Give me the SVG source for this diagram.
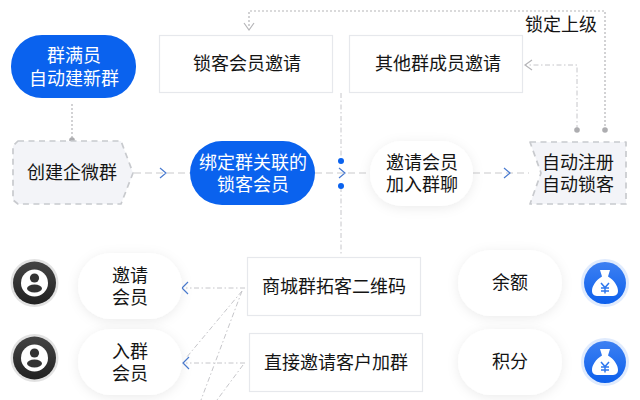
<svg xmlns="http://www.w3.org/2000/svg" xmlns:xlink="http://www.w3.org/1999/xlink" width="640" height="400" viewBox="0 0 640 400">
<style>
text{font-family:"Noto Sans CJK SC","Noto Sans",sans-serif;font-size:18px;text-anchor:middle;fill:#141414}
text.w{fill:#fff}
.blue{fill:#0a62ee}
.box{fill:#fff;stroke:#e6e8ec;stroke-width:1.2}
.pill{fill:#fff;filter:url(#sh)}
.dash{fill:#f3f4f8;stroke:#c8cace;stroke-width:1.7;stroke-dasharray:6 4.5;stroke-linejoin:round}
.h{fill:none;stroke:#c9c9cc;stroke-width:1.2;stroke-dasharray:7 4}
.dd{fill:none;stroke:#c6c6ca;stroke-width:1;stroke-dasharray:5 2.5 1.5 2.5}
.dot{fill:none;stroke:#b5b5b8;stroke-width:1.2;stroke-dasharray:2 2}
.ar{fill:none;stroke:#4a7bd0;stroke-width:1.2}
.arg{fill:none;stroke:#b5b5b8;stroke-width:1.2}
</style>
<defs>
<filter id="sh" x="-30%" y="-30%" width="160%" height="170%"><feDropShadow dx="0" dy="2" stdDeviation="6" flood-color="#000" flood-opacity="0.08"/></filter>
<linearGradient id="gk" x1="0" y1="0" x2="0" y2="1"><stop offset="0" stop-color="#444"/><stop offset="1" stop-color="#222"/></linearGradient>
<linearGradient id="gb" x1="0" y1="0" x2="0" y2="1"><stop offset="0" stop-color="#3d80f2"/><stop offset="1" stop-color="#0d60ec"/></linearGradient>
<g id="user">
<circle r="24" fill="#e2e2e2"/><circle r="21.500" fill="url(#gk)"/>
<circle r="13.500" fill="#fff"/>
<circle cy="-5" r="4.600" fill="#333"/>
<ellipse cy="5.500" rx="7.500" ry="4" fill="#333"/>
</g>
<g id="bag">
<circle r="24" fill="#e0ebfd"/><circle r="21" fill="url(#gb)"/>
<path d="M-5 -13 L5 -13 L3 -6.500 C9 -3 13 3 13 8 C13 12 10 13 7 13 L-7 13 C-10 13 -13 12 -13 8 C-13 3 -9 -3 -3 -6.500 Z" fill="#fff"/>
<path d="M-4 0 L0 4.500 L4 0 M0 4.500 L0 10.500 M-4 5 L4 5 M-4 8 L4 8" fill="none" stroke="#2f78ee" stroke-width="1.500"/>
</g>
</defs>
<rect width="640" height="400" fill="#fff"/>

<g id="connectors">
<path class="dot" d="M72 104V140"/>
<path class="dot" d="M605 130V11H249V28"/>
<path class="dd" d="M577 130V65H526"/>
<path class="dd" d="M341 93V160M341 187V254"/>
<path class="h" d="M134 173H190M315 173H370M473 173H529"/>
<path class="dd" d="M245 288H186M245 363H186M242 291L186 358M242 291L201 400M243 365L217 400"/>
<path class="arg" d="M244 23L249 30L254 23"/>
<path class="arg" d="M532 60L525 65L532 70"/>
<path class="ar" d="M160 168L166 173L160 178M339 168L345 173L339 178M504 168L510 173L504 178"/>
<path class="ar" d="M188 282L182 288L188 294M189 357L183 363L189 369"/>
<g fill="#adadb0"><circle cx="72" cy="140" r="2.800"/><circle cx="577" cy="130" r="2.800"/><circle cx="605" cy="130" r="2.800"/></g>
<g fill="#0a62ee"><circle cx="341" cy="161" r="3"/><circle cx="341" cy="186" r="3"/></g>
</g>

<g id="n-full"><rect class="blue" x="11" y="35" width="125" height="63" rx="31"/><text class="w" x="74" y="62">群满员<tspan x="74" dy="23">自动建新群</tspan></text></g>
<g id="n-lock"><rect class="box" x="159.500" y="35.500" width="173" height="57"/><text x="247" y="70">锁客会员邀请</text></g>
<g id="n-other"><rect class="box" x="349.500" y="35.500" width="173" height="57"/><text x="438" y="70">其他群成员邀请</text></g>
<g id="n-label"><text x="561" y="31">锁定上级</text></g>
<g id="n-create"><path class="dash" d="M18 141H121L133 173L121 204H18L13 200V146Z"/><text x="72" y="179">创建企微群</text></g>
<g id="n-bind"><rect class="blue" x="190" y="141" width="125" height="64" rx="32"/><text class="w" x="253" y="169">绑定群关联的<tspan x="253" dy="22">锁客会员</tspan></text></g>
<g id="n-invite"><rect class="pill" x="370" y="141" width="103" height="65" rx="32"/><text x="422" y="169">邀请会员<tspan x="422" dy="22">加入群聊</tspan></text></g>
<g id="n-auto"><path class="dash" d="M530 142H626V204H530L541 173Z"/><text x="578" y="169">自动注册<tspan x="578" dy="22">自动锁客</tspan></text></g>

<g id="n-icon1"><use xlink:href="#user" x="34.500" y="283"/></g>
<g id="n-icon2"><use xlink:href="#user" x="34.500" y="358"/></g>
<g id="n-m1"><rect class="pill" x="78" y="253" width="104" height="66" rx="33"/><text x="130" y="282">邀请<tspan x="130" dy="22">会员</tspan></text></g>
<g id="n-m2"><rect class="pill" x="78" y="329" width="104" height="66" rx="33"/><text x="130" y="358">入群<tspan x="130" dy="22">会员</tspan></text></g>
<g id="n-qr"><rect class="box" x="247.500" y="257.500" width="173" height="58"/><text x="334" y="293">商城群拓客二维码</text></g>
<g id="n-direct"><rect class="box" x="249.500" y="333.500" width="173" height="58"/><text x="336" y="369">直接邀请客户加群</text></g>
<g id="n-bal"><rect class="pill" x="458" y="250" width="104" height="66" rx="33"/><text x="510" y="289">余额</text></g>
<g id="n-pts"><rect class="pill" x="458" y="329" width="104" height="66" rx="33"/><text x="510" y="368">积分</text></g>
<g id="n-icon3"><use xlink:href="#bag" x="605" y="283"/></g>
<g id="n-icon4"><use xlink:href="#bag" x="605" y="362"/></g>
</svg>
